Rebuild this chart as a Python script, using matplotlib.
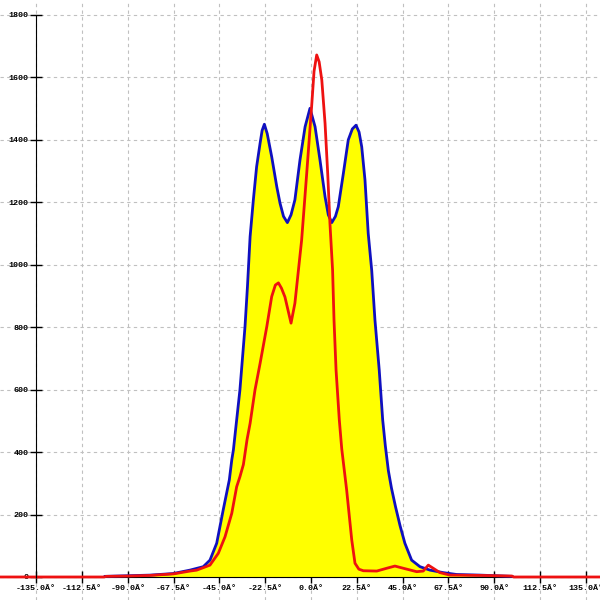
import matplotlib
matplotlib.use("Agg")
import matplotlib.pyplot as plt

# Blue envelope (filled yellow)
blue_x = [-101.1, -90.0, -79.0, -67.7, -59.4, -52.9, -49.6, -46.3, -43.1, -40.1, -38.9, -38.1,
          -34.9, -32.4, -31.2, -29.9, -28.3, -26.7, -25.0, -24.0, -22.9, -21.5, -19.3, -16.8,
          -15.2, -13.5, -11.6, -9.8, -7.9, -5.4, -2.9, -0.5, 2.0, 4.4, 6.9, 8.5, 10.2, 12.0,
          13.4, 15.9, 18.3, 20.3, 22.1, 23.6, 24.9, 26.5, 28.1, 29.8, 31.4, 33.5, 35.2, 36.5,
          38.0, 39.5, 41.5, 43.7, 46.1, 49.4, 53.5, 58.4, 64.9, 71.5, 83.0, 98.7]
blue_y = [2, 4, 6, 11, 22, 33, 54, 108, 215, 311, 375, 407,
          599, 802, 930, 1090, 1208, 1314, 1389, 1430, 1450, 1420, 1346, 1250,
          1197, 1155, 1135, 1160, 1208, 1336, 1442, 1501, 1442, 1336, 1218, 1160, 1135, 1155,
          1186, 1293, 1400, 1435, 1447, 1425, 1378, 1272, 1100, 983, 823, 663, 503, 420,
          340, 285, 225, 165, 108, 54, 33, 22, 14, 8, 6, 2]

# Red series
red_x = [-160, -101.5, -100.6, -90.0, -79.0, -67.5, -59.4, -56.1, -49.6, -45.5, -42.2, -38.9,
         -36.5, -34.9, -33.2, -31.4, -29.9, -27.5, -25.0, -21.7, -19.3, -17.5, -16.0, -14.5,
         -12.8, -9.8, -7.9, -4.6, -2.1, 0.3, 1.5, 2.8, 4.0, 5.3, 6.9, 8.2, 9.3, 10.6, 11.3,
         12.3, 13.9, 15.1, 17.5, 20.0, 21.6, 23.5, 25.7, 32.3, 37.2, 41.2, 45.3, 51.9, 55.1,
         57.6, 60.0, 63.3, 68.2, 83.0, 98.7, 99.5, 160]
red_y = [0, 0, 2, 3, 5, 10, 19, 22, 38, 76, 129, 204,
         289, 321, 360, 440, 492, 599, 684, 802, 898, 935, 942, 925,
         897, 813, 877, 1079, 1293, 1506, 1620, 1672, 1650, 1592, 1453, 1293, 1133, 983, 823,
         663, 503, 410, 279, 119, 44, 25, 20, 19, 28, 35, 28, 17, 19,
         38, 28, 14, 6, 5, 3, 0, 0]

x_ticks = [-135.0, -112.5, -90.0, -67.5, -45.0, -22.5, 0.0, 22.5, 45.0, 67.5, 90.0, 112.5, 135.0]
x_labels = [f"{v:.1f}Â°" for v in x_ticks]
y_ticks = [0, 200, 400, 600, 800, 1000, 1200, 1400, 1600, 1800]

fig = plt.figure(figsize=(6, 6), dpi=100)
ax = fig.add_axes([0, 0, 1, 1])
ax.set_xlim(-152.7, 141.9)
ax.set_ylim(-73.7, 1848)

ax.fill_between(blue_x, blue_y, 0, color="#ffff00", zorder=2, linewidth=0)
ax.plot(blue_x, blue_y, color="#1010c0", linewidth=2, zorder=3, solid_joinstyle="round")
ax.plot(red_x, red_y, color="#ee1111", linewidth=2, zorder=4, clip_on=False, solid_joinstyle="round")

for s in ["top", "right"]:
    ax.spines[s].set_visible(False)
ax.spines["left"].set_position(("data", -135))
ax.spines["left"].set_bounds(0, 1800)
ax.spines["bottom"].set_position(("data", 0))
ax.spines["bottom"].set_bounds(-135, 135)
ax.spines["left"].set_zorder(5)

ax.set_xticks(x_ticks)
ax.set_xticklabels(x_labels)
ax.set_yticks(y_ticks)
ax.set_yticklabels([str(v) for v in y_ticks])
ax.tick_params(direction="inout", length=9, width=1, pad=1, labelsize=6)
for lab in ax.get_xticklabels() + ax.get_yticklabels():
    lab.set_family("Liberation Mono")
    lab.set_fontweight("bold")

ax.grid(True, color="#c0c0c0", linestyle=(0, (3, 3)), linewidth=0.8, zorder=1)
ax.set_axisbelow(True)

fig.savefig("out.png", dpi=100)
